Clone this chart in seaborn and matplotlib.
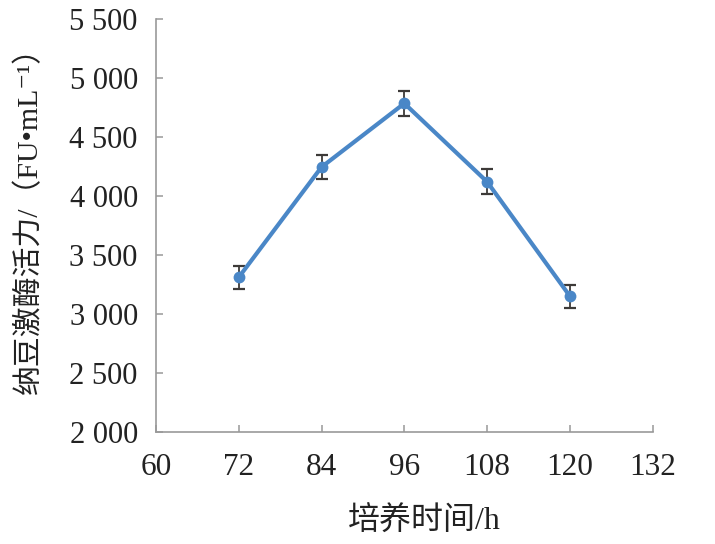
import matplotlib
matplotlib.use("Agg")
import matplotlib.pyplot as plt
import seaborn as sns
import pandas as pd

hours = [72, 84, 96, 108, 120]
activity = [3310, 4245, 4785, 4120, 3150]
errors = [95, 105, 105, 105, 98]
x_ticks = [60, 72, 84, 96, 108, 120, 132]
y_ticks = [2000, 2500, 3000, 3500, 4000, 4500, 5000, 5500]
y_tick_labels = ["2 000", "2 500", "3 000", "3 500", "4 000", "4 500", "5 000", "5 500"]
x_label = "培养时间/h"
y_label = "纳豆激酶活力/（FU•mL⁻¹）"

sns.set_theme(style="white")
plt.rcParams['font.family'] = ['Liberation Serif', 'Noto Sans CJK SC', 'DejaVu Sans']

df = pd.DataFrame({"h": hours, "v": activity, "e": errors})

fig = plt.figure(figsize=(7.15, 5.44), dpi=100)
ax = fig.add_axes([0.218, 0.206, 0.695, 0.759])

line_color = "#4A87C7"
ax.errorbar(df["h"], df["v"], yerr=df["e"], fmt="none", ecolor="#3d3a38",
            elinewidth=1.3, capsize=4.5, capthick=1.6, zorder=3)
sns.lineplot(data=df, x="h", y="v", ax=ax, color=line_color, linewidth=3.0,
             marker="o", markersize=8.5, markeredgewidth=0, zorder=4)

ax.set_xlim(60, 132)
ax.set_ylim(2000, 5500)
ax.set_xticks(x_ticks)
ax.set_xticklabels([str(t) for t in x_ticks])
ax.set_yticks(y_ticks)
ax.set_yticklabels(y_tick_labels)

for s in ["top", "right"]:
    ax.spines[s].set_visible(False)
for s in ["left", "bottom"]:
    ax.spines[s].set_color("#999999")
    ax.spines[s].set_linewidth(1.2)

ax.tick_params(axis="both", direction="in", length=5, width=1.1, color="#999999",
               labelcolor="#222222", left=True, bottom=True)
ax.tick_params(axis="y", labelsize=22, pad=13)
ax.tick_params(axis="x", labelsize=22.5, pad=15)

ax.set_xlabel(x_label, fontsize=23, color="#222222")
ax.set_ylabel(y_label, fontsize=21.5, color="#222222")
ax.xaxis.set_label_coords(0.54, -0.18)
ax.yaxis.set_label_coords(-0.228, 0.53)

fig.savefig("out.png", dpi=100, facecolor="white")
